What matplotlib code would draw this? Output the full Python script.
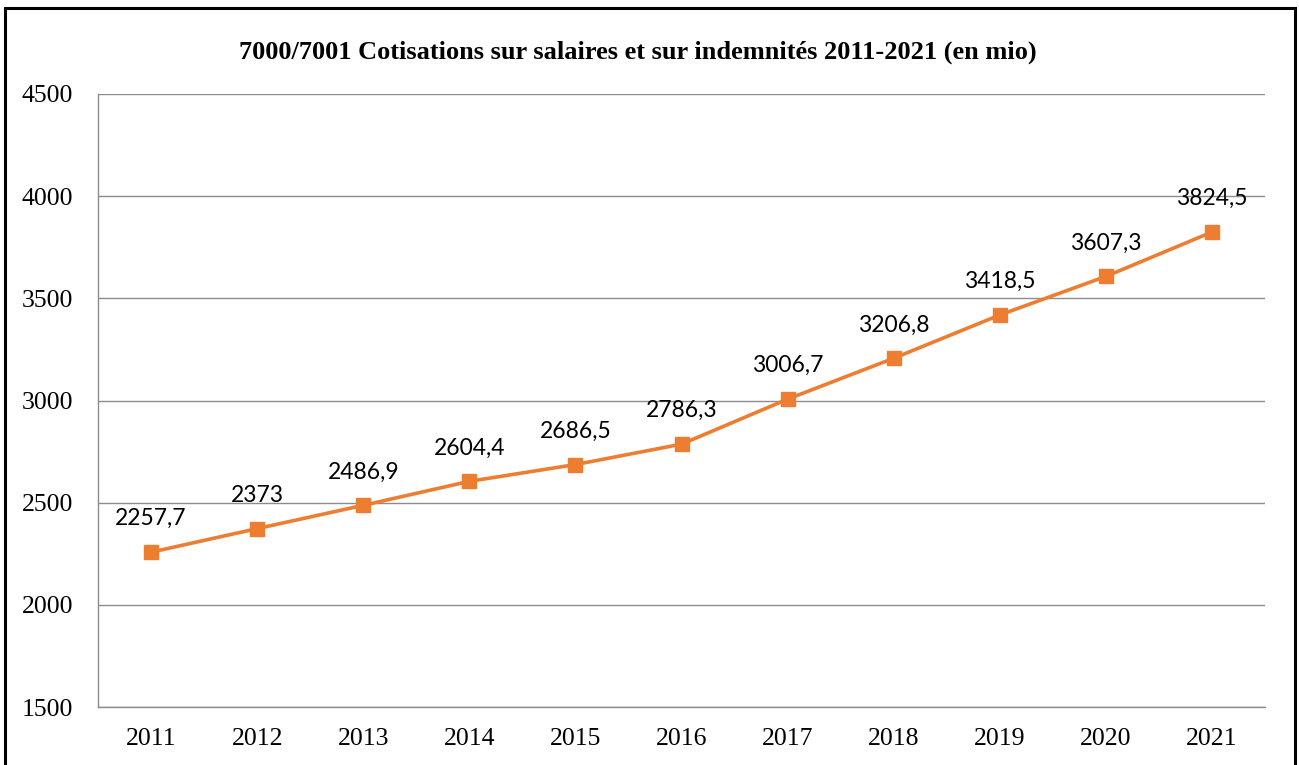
import matplotlib
matplotlib.use("Agg")
import matplotlib.pyplot as plt
from matplotlib.patches import Rectangle

years = ["2011", "2012", "2013", "2014", "2015", "2016", "2017", "2018", "2019", "2020", "2021"]
values = [2257.7, 2373, 2486.9, 2604.4, 2686.5, 2786.3, 3006.7, 3206.8, 3418.5, 3607.3, 3824.5]
labels = ["2257,7", "2373", "2486,9", "2604,4", "2686,5", "2786,3", "3006,7", "3206,8", "3418,5", "3607,3", "3824,5"]
yticks = [1500, 2000, 2500, 3000, 3500, 4000, 4500]
title = "7000/7001 Cotisations sur salaires et sur indemnités 2011-2021 (en mio)"

W, H = 1299, 765
fig = plt.figure(figsize=(W / 100, H / 100), dpi=100)
ax = fig.add_axes([98 / W, 1 - 707 / H, (1265 - 98) / W, (707 - 94) / H])

x = list(range(len(years)))
ax.plot(x, values, color="#ED7D31", linewidth=2.6, marker="s", markersize=10,
        markerfacecolor="#ED7D31", markeredgecolor="#ED7D31", zorder=3)
for xi, v, lab in zip(x, values, labels):
    ax.annotate(lab, (xi, v), xytext=(0, 24), textcoords="offset points",
                ha="center", va="center", fontsize=16.5, family="Lato", color="black")

ax.set_xlim(-0.5, len(years) - 0.5)
ax.set_ylim(1500, 4500)
ax.set_yticks(yticks)
ax.set_yticklabels([str(t) for t in yticks], family="Liberation Serif", fontsize=18.5)
ax.set_xticks(x)
ax.set_xticklabels(years, family="Liberation Serif", fontsize=18.5)
ax.tick_params(axis="y", length=0, pad=18)
ax.tick_params(axis="x", length=0, pad=15)
ax.grid(axis="y", color="#8c8c8c", linewidth=1)
ax.set_axisbelow(True)
for s in ["top", "right"]:
    ax.spines[s].set_visible(False)
for s in ["left", "bottom"]:
    ax.spines[s].set_color("#8c8c8c")
    ax.spines[s].set_linewidth(1)

fig.text(638 / W, 1 - 52 / H, title, ha="center", va="center",
         family="Liberation Serif", fontweight="bold", fontsize=19)

fig.patches.append(Rectangle((4.5 / W, -0.05), (1295 - 4.5) / W, 1.05 - 8 / H,
                             transform=fig.transFigure, fill=False,
                             edgecolor="black", linewidth=2.2))

fig.savefig("out.png", dpi=100)
